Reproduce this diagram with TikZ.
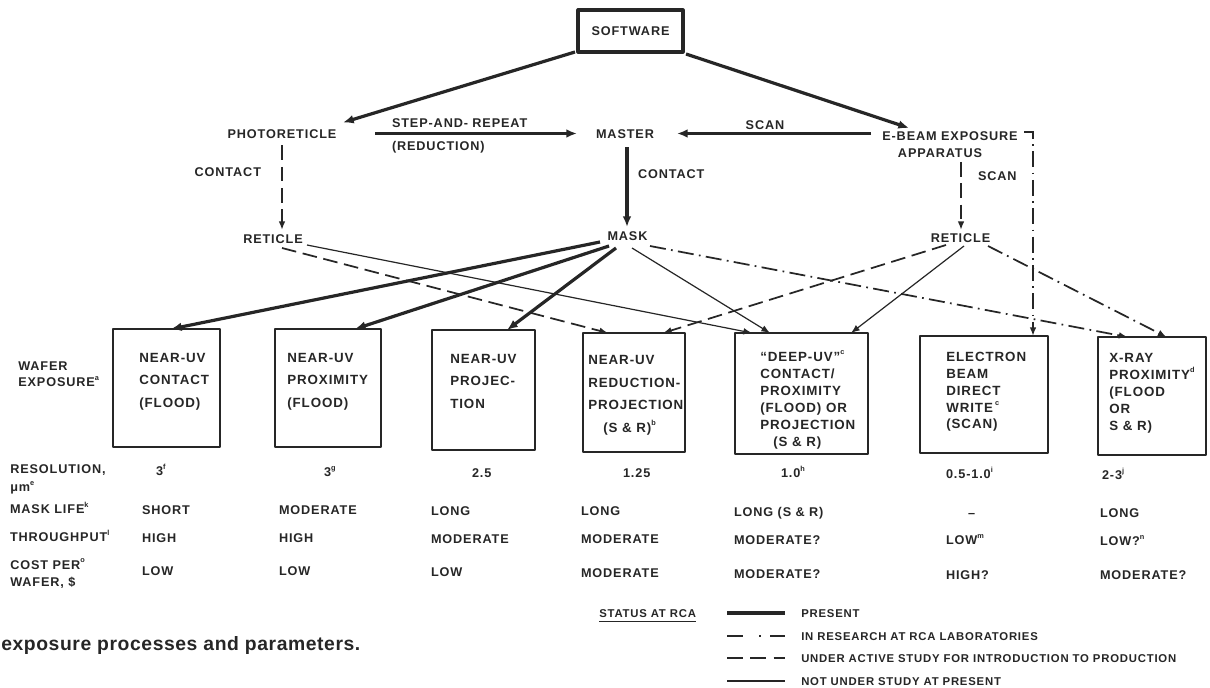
\documentclass[tikz,border=0pt]{standalone}
\usepackage{fontspec}
\setmainfont{Liberation Sans}
\newfontfamily\labf{Liberation Sans}[LetterSpace=7]
\newfontfamily\capf{Liberation Sans}[LetterSpace=3]
\usetikzlibrary{arrows.meta,calc}
\definecolor{ink}{HTML}{262626}
\newcommand\sps[1]{\raisebox{0.5em}{\fontsize{5.5}{5.5}\selectfont #1}}
\begin{document}
\begin{tikzpicture}[x=0.75pt,y=-0.75pt,
  every node/.style={text=ink},
  lbl/.style={font=\labf\bfseries\fontsize{9.5}{11}\selectfont, inner sep=0pt, outer sep=0pt, text height=7pt, text depth=0pt},
  mlbl/.style={font=\labf\bfseries\fontsize{9.5}{#1}\selectfont, inner sep=0pt, align=left, anchor=north west},
  btxt/.style={font=\labf\bfseries\fontsize{10}{#1}\selectfont, inner sep=0pt, align=left, anchor=north west},
  leg/.style={font=\labf\bfseries\fontsize{8.5}{10}\selectfont, inner sep=0pt, text height=6.2pt, text depth=0pt, anchor=west},
  wbox/.style={draw=ink, line width=2pt, line join=round, inner sep=0pt, outer sep=0pt},
  present/.style={draw=ink, line width=2.4pt, -{Latex[length=8pt,width=6.5pt]}},
  notstudy/.style={draw=ink, line width=0.9pt, -{Latex[length=6.5pt,width=5pt]}},
  active/.style={draw=ink, line width=1.3pt, dash pattern=on 11pt off 5pt, -{Latex[length=6.5pt,width=5pt]}},
  research/.style={draw=ink, line width=1.3pt, dash pattern=on 12pt off 4pt on 1.3pt off 4pt, -{Latex[length=6.5pt,width=5pt]}},
]
\fill[white] (0,0) rectangle (1210,688);
\useasboundingbox (0,0) rectangle (1210,688);

% top nodes
\node[wbox, line width=2.4pt, minimum width=78.75pt, minimum height=31.5pt,
      font=\labf\bfseries\fontsize{9.5}{11}\selectfont] (sw) at (630.5,31) {SOFTWARE};
\node[lbl] (pr) at (282,133.5) {PHOTORETICLE};
\node[lbl] (ms) at (625,133.5) {MASTER};
\node[lbl] (eb) at (950,136) {E-BEAM EXPOSURE};
\node[lbl] (ap) at (940,153) {APPARATUS};
\node[lbl, anchor=west] (sr) at (392,123) {STEP-AND- REPEAT};
\node[lbl, anchor=west] (rd) at (392,146) {(REDUCTION)};
\node[lbl, anchor=east] (c1) at (261,172) {CONTACT};
\node[lbl, anchor=west] (c2) at (638,174) {CONTACT};
\node[lbl] (sc1) at (765,125) {SCAN};
\node[lbl, anchor=west] (sc2) at (978,176) {SCAN};
\node[lbl] (rl) at (273,239) {RETICLE};
\node[lbl] (mk) at (627.5,236) {MASK};
\node[lbl] (rr) at (960.5,238) {RETICLE};

% boxes
\node[wbox, minimum width=80.25pt, minimum height=88.5pt] (b1) at (166.5,388) {};
\node[wbox, minimum width=79.5pt, minimum height=88.5pt] (b2) at (328,388) {};
\node[wbox, minimum width=77.25pt, minimum height=90pt] (b3) at (483.5,390) {};
\node[wbox, minimum width=76.5pt, minimum height=89.25pt] (b4) at (634,392.5) {};
\node[wbox, minimum width=99.75pt, minimum height=90.75pt] (b5) at (801.5,393.5) {};
\node[wbox, minimum width=96pt, minimum height=87.75pt] (b6) at (984,394.5) {};
\node[wbox, minimum width=81pt, minimum height=88.5pt] (b7) at (1152,396) {};

\node[btxt=16.75pt] (t1) at (139,353.2) {NEAR-UV\\CONTACT\\(FLOOD)};
\node[btxt=16.75pt] (t2) at (287,353.2) {NEAR-UV\\PROXIMITY\\(FLOOD)};
\node[btxt=16.75pt] (t3) at (450,354.2) {NEAR-UV\\PROJEC-\\TION};
\node[btxt=17pt] (t4) at (588,355.2) {NEAR-UV\\REDUCTION-\\PROJECTION\\\hspace*{11.25pt}(S \& R)\sps{b}};
\node[btxt=12.75pt] (t5) at (760,350.2) {“DEEP-UV”\sps{c}\\CONTACT/\\PROXIMITY\\(FLOOD) OR\\PROJECTION\\\hspace*{9.75pt}(S \& R)};
\node[btxt=12.6pt] (t6) at (946,352.2) {ELECTRON\\BEAM\\DIRECT\\WRITE\,\sps{c}\\(SCAN)};
\node[btxt=12.75pt] (t7) at (1109,353.2) {X-RAY\\PROXIMITY\sps{d}\\(FLOOD\\OR\\S \& R)};

\node[mlbl=12pt] (we) at (18,361.4) {WAFER\\EXPOSURE\sps{a}};

% top connectors
\draw[present] ($(sw.south west)+(-3,0)$) -- ($(pr)+(61,-11)$);
\draw[present] ($(sw.south east)+(3,2)$) -- ($(eb)+(-41,-8)$);
\draw[present] ($(pr)+(93,0)$) -- ($(ms)+(-48,0)$);
\draw[present] ($(eb)+(-79,-2.5)$) -- ($(ms)+(52,0)$);
\draw[present] ($(ms)+(2,14)$) -- ($(mk)+(-0.5,-9)$);
\draw[active] ($(pr)+(0,12)$) -- ($(rl)+(9,-9)$);
\draw[active] ($(ap)+(21,9)$) -- ($(rr)+(0.5,-8)$);
\draw[research] ($(eb)+(74,-4)$) -| ($(b6.north)+(49,0)$);

% lower connectors
\draw[present] ($(mk)+(-27.5,6)$) -- ($(b1.north)+(4.5,0)$);
\draw[present] ($(mk)+(-18.5,10)$) -- ($(b2.north)+(27,0)$);
\draw[present] ($(mk)+(-11.5,12)$) -- ($(b3.north)+(23.5,0)$);
\draw[notstudy] ($(mk)+(4.5,12)$) -- ($(b5.north)+(-31.5,0)$);
\draw[research] ($(mk)+(22.5,10)$) -- ($(b7.north)+(-24.5,0)$);
\draw[active] ($(rl)+(9,9)$) -- ($(b4.north)+(-26,0)$);
\draw[notstudy] ($(rl)+(34,6)$) -- ($(b5.north)+(-49.5,0)$);
\draw[active] ($(rr)+(-14.5,7)$) -- ($(b4.north)+(29,0)$);
\draw[notstudy] ($(rr)+(3.5,8)$) -- ($(b5.north)+(49.5,0)$);
\draw[research] ($(rr)+(27.5,8)$) -- ($(b7.north)+(14.5,0)$);

% table
\node[mlbl=13.5pt] (hres) at (10,464.5) {RESOLUTION,\\μm\sps{e}};
\node[lbl, anchor=west] (hml) at (10,509) {MASK LIFE\sps{k}};
\node[lbl, anchor=west] (htp) at (10,537) {THROUGHPUT\sps{l}};
\node[mlbl=12.75pt] (hcp) at (10,558.5) {COST PER\sps{o}\\WAFER, \$};

\node[lbl, anchor=west] (r1) at (156,471) {3\sps{f}};
\node[lbl, anchor=west] (r2) at (324,472) {3\sps{g}};
\node[lbl, anchor=west] (r3) at (472,473) {2.5};
\node[lbl, anchor=west] (r4) at (623,473) {1.25};
\node[lbl, anchor=west] (r5) at (781,473) {1.0\sps{h}};
\node[lbl, anchor=west] (r6) at (946,474) {0.5-1.0\sps{i}};
\node[lbl, anchor=west] (r7) at (1102,475) {2-3\sps{j}};

\node[lbl, anchor=west] (m1) at (142,510) {SHORT};
\node[lbl, anchor=west] (m2) at (279,510) {MODERATE};
\node[lbl, anchor=west] (m3) at (431,511) {LONG};
\node[lbl, anchor=west] (m4) at (581,511) {LONG};
\node[lbl, anchor=west] (m5) at (734,512) {LONG (S \& R)};
\node[lbl, anchor=west] (m6) at (968,513) {–};
\node[lbl, anchor=west] (m7) at (1100,513) {LONG};

\node[lbl, anchor=west] (p1) at (142,538) {HIGH};
\node[lbl, anchor=west] (p2) at (279,538) {HIGH};
\node[lbl, anchor=west] (p3) at (431,539) {MODERATE};
\node[lbl, anchor=west] (p4) at (581,539) {MODERATE};
\node[lbl, anchor=west] (p5) at (734,540) {MODERATE?};
\node[lbl, anchor=west] (p6) at (946,540) {LOW\sps{m}};
\node[lbl, anchor=west] (p7) at (1100,541) {LOW?\sps{n}};

\node[lbl, anchor=west] (q1) at (142,571) {LOW};
\node[lbl, anchor=west] (q2) at (279,571) {LOW};
\node[lbl, anchor=west] (q3) at (431,572) {LOW};
\node[lbl, anchor=west] (q4) at (581,573) {MODERATE};
\node[lbl, anchor=west] (q5) at (734,574) {MODERATE?};
\node[lbl, anchor=west] (q6) at (946,575) {HIGH?};
\node[lbl, anchor=west] (q7) at (1100,575) {MODERATE?};

% legend
\node[leg] (st) at (599,613) {STATUS AT RCA};
\draw[ink, line width=1.2pt] ($(st.south west)+(0,4)$) -- ($(st.south east)+(0,4)$);
\node[leg] (l1) at (801,613) {PRESENT};
\node[leg] (l2) at (801,636) {IN RESEARCH AT RCA LABORATORIES};
\node[leg] (l3) at (801,658) {UNDER ACTIVE STUDY FOR INTRODUCTION TO PRODUCTION};
\node[leg] (l4) at (801,681) {NOT UNDER STUDY AT PRESENT};
\draw[ink, line width=3pt] ($(l1.west)+(-74,0)$) -- ($(l1.west)+(-16,0)$);
\draw[ink, line width=1.3pt, dash pattern=on 12pt off 12pt on 1.5pt off 7pt on 11pt off 20pt] ($(l2.west)+(-74,0)$) -- ($(l2.west)+(-16,0)$);
\draw[ink, line width=1.3pt, dash pattern=on 12pt off 5.5pt] ($(l3.west)+(-74,0)$) -- ($(l3.west)+(-16,0)$);
\draw[ink, line width=0.9pt] ($(l4.west)+(-74,0)$) -- ($(l4.west)+(-16,0)$);

% caption
\node[anchor=base west, inner sep=0pt, font=\capf\bfseries\fontsize{14.5}{17}\selectfont] (cap) at (1,650.5) {exposure processes and parameters.};
\end{tikzpicture}
\end{document}
